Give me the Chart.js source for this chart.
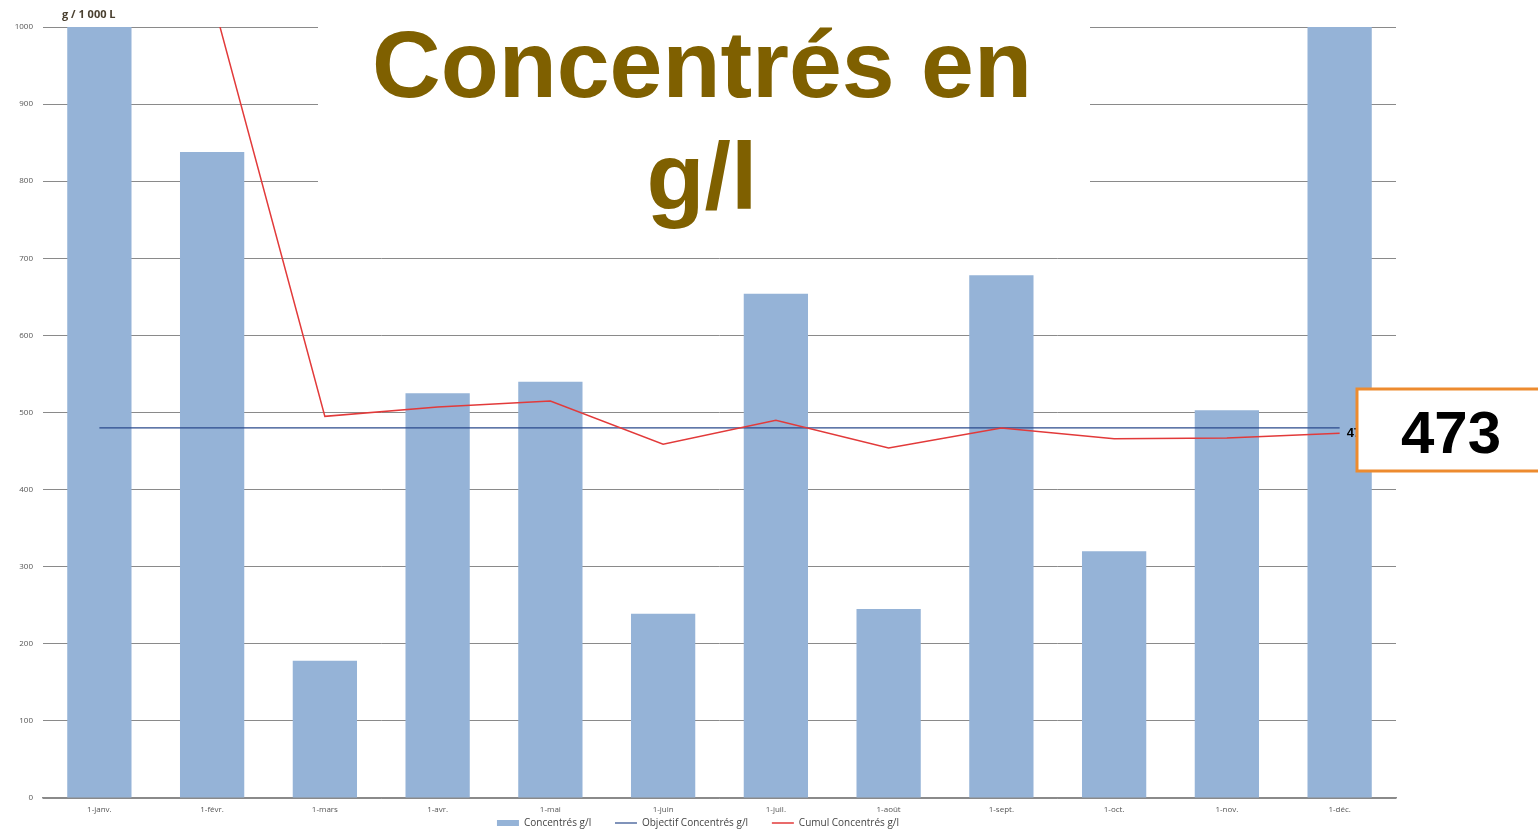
<!DOCTYPE html>
<html>
<head>
<meta charset="utf-8">
<script src="https://cdn.jsdelivr.net/npm/chart.js@4.4.1/dist/chart.umd.min.js"></script>
<style>
  html, body { margin: 0; padding: 0; background: #fff; }
  #wrap { width: 1538px; height: 838px; }
</style>
</head>
<body>
<div id="wrap"><canvas id="chartConc" width="1538" height="838"></canvas></div>
<script>
const mois = ["1-janv.", "1-févr.", "1-mars", "1-avr.", "1-mai", "1-juin", "1-juil.", "1-août", "1-sept.", "1-oct.", "1-nov.", "1-déc."];
const concentres = [1000, 838, 178, 525, 540, 239, 654, 245, 678, 320, 503, 1000];
const objectif = [480, 480, 480, 480, 480, 480, 480, 480, 480, 480, 480, 480];
const cumul = [1250, 1038, 495, 507, 515, 459, 490, 454, 480, 466, 467, 473];
const yTicks = [0, 100, 200, 300, 400, 500, 600, 700, 800, 900, 1000];

const smallFont = "'Open Sans', 'Noto Sans', sans-serif";

// boite blanche du titre + textes
const decorPlugin = {
    id: 'decor',
    beforeDatasetsDraw(chart) {
        const ctx = chart.ctx;
        ctx.save();
        ctx.fillStyle = '#ffffff';
        ctx.fillRect(318, 0, 772, 228);
        ctx.restore();
    },
    afterDraw(chart) {
        const ctx = chart.ctx;
        const meta = chart.getDatasetMeta(2);
        const last = meta.data[meta.data.length - 1];
        ctx.save();
        // petite étiquette de la courbe cumul (masquée par l'encadré)
        ctx.fillStyle = '#000';
        ctx.font = "bold 13px 'Liberation Sans', Arial, sans-serif";
        ctx.textBaseline = 'middle';
        ctx.fillText(String(cumul[cumul.length - 1]), last.x + 7, last.y);

        // encadré valeur
        ctx.fillStyle = '#ffffff';
        ctx.fillRect(1357, 389, 190, 82);
        ctx.strokeStyle = '#ED8B2F';
        ctx.lineWidth = 3;
        ctx.strokeRect(1357, 389, 190, 82);
        ctx.fillStyle = '#000';
        ctx.font = "bold 60px 'Liberation Sans', Arial, sans-serif";
        ctx.textAlign = 'center';
        ctx.textBaseline = 'alphabetic';
        ctx.fillText(String(cumul[cumul.length - 1]), 1451, 453);

        // titre
        ctx.fillStyle = '#7F6000';
        ctx.font = "bold 95px 'Liberation Sans', Arial, sans-serif";
        ctx.fillText('Concentrés en', 702, 97);
        ctx.fillText('g/l', 702, 209);

        // unité
        ctx.fillStyle = '#4a4030';
        ctx.font = "bold 11px " + smallFont;
        ctx.textAlign = 'left';
        ctx.fillText('g / 1 000 L', 62, 18);
        ctx.restore();
    }
};

const ctx = document.getElementById('chartConc').getContext('2d');
new Chart(ctx, {
    data: {
        labels: mois,
        datasets: [
            {
                type: 'bar', label: 'Concentrés g/l', data: concentres,
                backgroundColor: '#95B3D7', barPercentage: 0.57, categoryPercentage: 1,
                pointStyle: 'rect', order: 3
            },
            {
                type: 'line', label: 'Objectif Concentrés g/l', data: objectif,
                borderColor: '#2B4A8C', borderWidth: 1.2, pointRadius: 0, pointStyle: 'line',
                backgroundColor: '#2B4A8C', tension: 0, order: 2
            },
            {
                type: 'line', label: 'Cumul Concentrés g/l', data: cumul,
                borderColor: '#E23A3A', borderWidth: 1.5, pointRadius: 0, pointStyle: 'line',
                backgroundColor: '#E23A3A', tension: 0, clip: 0, order: 1
            }
        ]
    },
    options: {
        responsive: false,
        animation: false,
        devicePixelRatio: 1,
        layout: { padding: { left: 0, right: 142, top: 27, bottom: 0 } },
        scales: {
            x: {
                grid: { display: false, drawTicks: false },
                border: { color: '#8a8a8a', width: 1.5 },
                ticks: { color: '#555', font: { size: 8, family: smallFont }, maxRotation: 0, padding: 7 },
                afterFit(scale) { scale.height = 17; }
            },
            y: {
                min: 0, max: 1000,
                afterBuildTicks(scale) { scale.ticks = yTicks.map(v => ({ value: v })); },
                grid: { color: '#8a8a8a', lineWidth: 1, drawTicks: false },
                border: { display: false },
                ticks: { color: '#555', font: { size: 8, family: smallFont }, padding: 10, callback: v => String(v) },
                afterFit(scale) { scale.width = 43; }
            }
        },
        plugins: {
            legend: {
                position: 'bottom',
                labels: {
                    usePointStyle: true, pointStyleWidth: 22, boxHeight: 6,
                    color: '#444', font: { size: 10, family: smallFont }, padding: 3,
                    sort: (a, b) => a.datasetIndex - b.datasetIndex,
                    generateLabels(chart) {
                        const items = Chart.defaults.plugins.legend.labels.generateLabels(chart);
                        items.forEach(it => { if (it.datasetIndex < 2) it.text += '        '; });
                        return items;
                    }
                }
            },
            tooltip: { enabled: false }
        }
    },
    plugins: [decorPlugin]
});
</script>
</body>
</html>
